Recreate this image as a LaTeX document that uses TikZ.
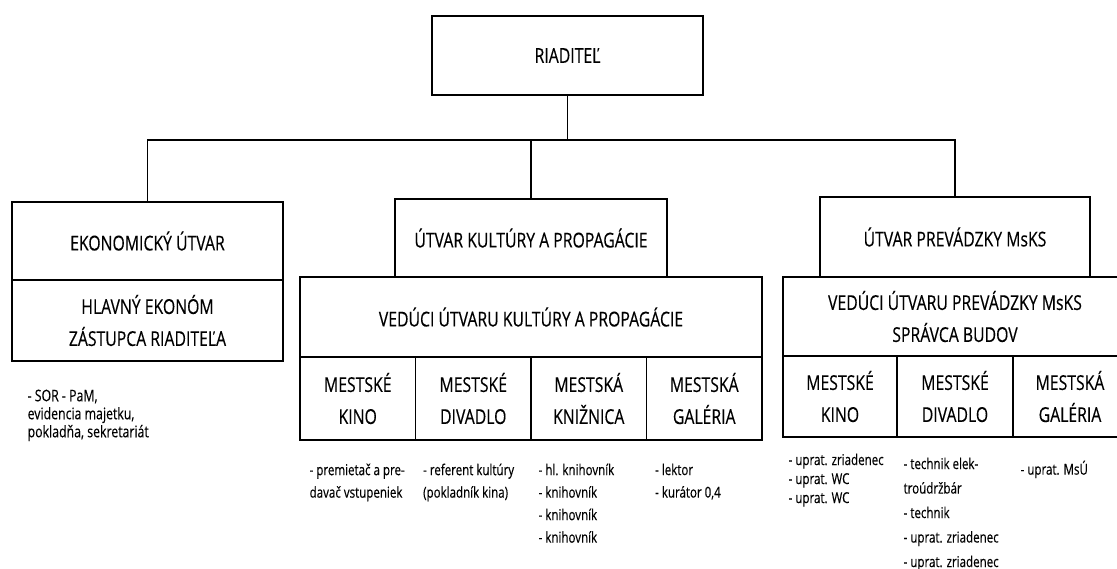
\documentclass[tikz,border=0pt]{standalone}
\usepackage{fontspec}
\setmainfont{Open Sans}[FakeStretch=0.77,FakeBold=0.3]
\usetikzlibrary{positioning}

\begin{document}
\begin{tikzpicture}[x=1pt,y=-1pt,line width=1.3pt,
    box/.style={draw,align=center,inner sep=0pt,outer sep=0pt,font=\fontsize{20.5}{32}\selectfont},
    wide/.style={box,minimum width=271pt,minimum height=79pt},
    colK/.style={box,minimum width=115.5pt,minimum height=83pt},
    colP/.style={box,minimum height=81pt},
    note/.style={align=left,inner sep=0pt,font=\fontsize{15}{22.5}\selectfont}]
  \useasboundingbox (0,0) rectangle (1117,569);
  \coordinate (bus) at (0,140);

  \node[wide] (riad) at (567.5,55.5) {RIADITEĽ};

  \node[wide,minimum height=78pt] (ekon) at (147.5,241) {EKONOMICKÝ ÚTVAR};
  \node[wide,minimum height=81pt] (hlav) [below=0pt of ekon] {HLAVNÝ EKONÓM\\ZÁSTUPCA RIADITEĽA};

  \node[wide,minimum width=272pt,minimum height=78pt] (kult) at (531,238) {ÚTVAR KULTÚRY A PROPAGÁCIE};
  \node[box,minimum width=462pt,minimum height=80pt] (vedK) [below=0pt of kult] {VEDÚCI ÚTVARU KULTÚRY A PROPAGÁCIE};
  \node[colK] (kKino) [below right=0pt and 0pt of vedK.south west] {MESTSKÉ\\KINO};
  \node[colK] (kDiv) [right=0pt of kKino] {MESTSKÉ\\DIVADLO};
  \node[colK] (kKniz) [right=0pt of kDiv] {MESTSKÁ\\KNIŽNICA};
  \node[colK] (kGal) [right=0pt of kKniz] {MESTSKÁ\\GALÉRIA};

  \node[wide,minimum width=270pt,minimum height=80pt] (prev) at (955,237) {ÚTVAR PREVÁDZKY MsKS};
  \node[box,minimum width=344pt,minimum height=79pt] (vedP) [below=0pt of prev] {VEDÚCI ÚTVARU PREVÁDZKY MsKS\\SPRÁVCA BUDOV};
  \node[colP,minimum width=114pt] (pKino) [below right=0pt and 0pt of vedP.south west] {MESTSKÉ\\KINO};
  \node[colP,minimum width=116pt] (pDiv) [right=0pt of pKino] {MESTSKÉ\\DIVADLO};
  \node[colP,minimum width=114pt] (pGal) [right=0pt of pDiv] {MESTSKÁ\\GALÉRIA};

  \draw (riad.south) -- (riad.south |- bus);
  \draw (ekon.north) |- (prev.north |- bus) -- (prev.north);
  \draw (kult.north) -- (kult.north |- bus);

  \node[note,font=\fontsize{16}{18}\selectfont] (nEkon) [below right=28pt and 15pt of hlav.south west] {- SOR - PaM,\\evidencia majetku,\\pokladňa, sekretariát};
  \node[note] (nKino) [below right=23pt and 9pt of kKino.south west] {- premietač a pre-\\davač vstupeniek};
  \node[note] (nDiv) [below right=23pt and 7pt of kDiv.south west] {- referent kultúry\\(pokladník kina)};
  \node[note] (nKniz) [below right=23pt and 7pt of kKniz.south west] {- hl. knihovník\\- knihovník\\- knihovník\\- knihovník};
  \node[note] (nGal) [below right=23pt and 8pt of kGal.south west] {- lektor\\- kurátor 0,4};
  \node[note,font=\fontsize{15}{19}\selectfont] (nPKino) [below right=16pt and 5pt of pKino.south west] {- uprat. zriadenec\\- uprat. WC\\- uprat. WC};
  \node[note,font=\fontsize{15}{24.5}\selectfont] (nPDiv) [below right=20pt and 6pt of pDiv.south west] {- technik elek-\\troúdržbár\\- technik\\- uprat. zriadenec\\- uprat. zriadenec};
  \node[note] (nPGal) [below right=23pt and 7pt of pGal.south west] {- uprat. MsÚ};
\end{tikzpicture}
\end{document}
